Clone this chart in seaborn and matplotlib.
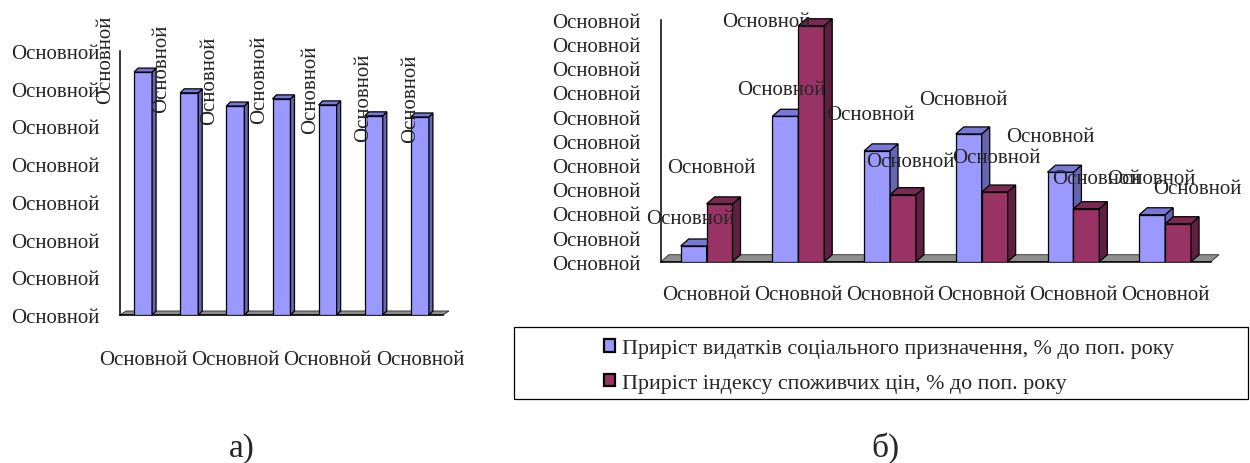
import numpy as np
import pandas as pd
import matplotlib
matplotlib.use("Agg")
import matplotlib.pyplot as plt
from matplotlib.patches import Polygon, Patch, Rectangle
from matplotlib.transforms import IdentityTransform
import seaborn as sns

# ---- data -------------------------------------------------------------
left_values = [64.4, 58.9, 55.4, 57.3, 55.7, 52.8, 52.5]
left_value_labels = ["Основной"] * 7
left_yticks = [0, 10, 20, 30, 40, 50, 60, 70]
left_ytick_labels = ["Основной"] * 8
left_xtick_labels = ["Основной", "", "Основной", "", "Основной", "", "Основной"]

right_social = [0.65, 6.01, 4.58, 5.28, 3.70, 1.94]
right_cpi = [2.39, 9.75, 2.77, 2.88, 2.19, 1.57]
right_social_labels = ["Основной"] * 6
right_cpi_labels = ["Основной"] * 6
right_yticks = [0, 1, 2, 3, 4, 5, 6, 7, 8, 9, 10]
right_ytick_labels = ["Основной"] * 11
right_xtick_labels = ["Основной"] * 6
series_names = ["Приріст видатків соціального призначення, % до поп. року",
                "Приріст індексу споживчих цін, % до поп. року"]

# ---- style ------------------------------------------------------------
sns.set_style("white")
plt.rcParams["font.family"] = ["Liberation Serif", "DejaVu Serif"]
FS = 15
LEG_FS = 15.8
BLUE = ("#9999FF", "#6666B0", "#7878D8")      # front, side, top
RED = ("#993366", "#5E1F40", "#7A2952")
FLOOR = "#8E8E8E"
EDGE_LW = 0.9

# label nudges (pixels) relative to the top centre of each bar
left_label_dx = [-37, -28, -26, -22, -17, -10, -9]
left_label_dy = [13, 25, 26, 20, 16, 19, 19]
social_label_dx = [-3, -4, -7, -5, -10, -1]
social_label_dy = [30, 29, 39, 37, 38, 39]
cpi_label_dx = [-8, -45, 7, 2, 10, 19]
cpi_label_dy = [39, 7, 36, 37, 33, 38]

fig = plt.figure(figsize=(12.5, 4.64), dpi=100)
ax_l = fig.add_axes([0.0960, 0.3190, 0.2584, 0.5690])
ax_r = fig.add_axes([0.5286, 0.4338, 0.4402, 0.5216])

# ---- left chart -------------------------------------------------------
df_l = pd.DataFrame({"period": [f"p{i}" for i in range(len(left_values))],
                     "value": left_values})
sns.barplot(data=df_l, x="period", y="value", ax=ax_l, color=BLUE[0],
            saturation=1, width=0.39, edgecolor="black", linewidth=EDGE_LW,
            zorder=3)

# ---- right chart ------------------------------------------------------
n_r = len(right_social)
df_r = pd.DataFrame({
    "period": [f"p{i}" for i in range(n_r)] * 2,
    "value": right_social + right_cpi,
    "series": [series_names[0]] * n_r + [series_names[1]] * n_r,
})
sns.barplot(data=df_r, x="period", y="value", hue="series", ax=ax_r,
            palette=[BLUE[0], RED[0]], saturation=1, width=0.565,
            edgecolor="black", linewidth=EDGE_LW, legend=False)


def style_axes(ax, n, yticks, ylabels, xlabel_pos, xlabels, xpad):
    ax.set_xlim(-0.5, n - 0.5)
    ax.set_ylim(yticks[0], yticks[-1])
    ax.set_yticks(yticks, labels=ylabels)
    ax.set_xticks(np.arange(-0.5, n), labels=[""] * (n + 1))
    ax.set_xticks(xlabel_pos, labels=xlabels, minor=True)
    ax.tick_params(axis="x", which="minor", length=0, pad=xpad, labelsize=FS)
    ax.tick_params(axis="x", which="major", direction="out", length=3.6,
                   width=1.0, color="black")
    ax.tick_params(axis="y", direction="out", length=3.6, width=1.0,
                   color="black", pad=10.8, labelsize=FS)
    ax.set_xlabel("")
    ax.set_ylabel("")
    for s in ("top", "right"):
        ax.spines[s].set_visible(False)
    for s in ("left", "bottom"):
        ax.spines[s].set_color("black")
        ax.spines[s].set_linewidth(1.1)
    ax.patch.set_alpha(0)


style_axes(ax_l, len(left_values), left_yticks, left_ytick_labels,
           np.arange(len(left_values)), left_xtick_labels, 25.5)
style_axes(ax_r, n_r, right_yticks, right_ytick_labels,
           np.arange(n_r), right_xtick_labels, 16.8)


def add_depth(ax, dx, dy, floor_dx, floor_dy):
    """Give the flat bars a side and a top face plus a grey floor.
    Returns the top centre of every bar, one list per series."""
    tr = ax.transData
    x0, x1 = ax.get_xlim()
    (fl, fy), (fr, _) = tr.transform([(x0, 0), (x1, 0)])
    floor = Polygon([(fl, fy), (fr, fy), (fr + floor_dx, fy + floor_dy),
                     (fl + floor_dx, fy + floor_dy)], closed=True,
                    facecolor=FLOOR, edgecolor="#2a2a2a", linewidth=0.6,
                    transform=IdentityTransform(), zorder=2, clip_on=False)
    ax.add_artist(floor)
    out = []
    for k, cont in enumerate(ax.containers):
        colors = BLUE if k == 0 else RED
        z = 3 + 2 * k
        tops = []
        for p in cont.patches:
            p.set_zorder(z)
            bx, bw, bh = p.get_x(), p.get_width(), p.get_height()
            (X0, Y0), (X1, Y1) = tr.transform([(bx, 0), (bx + bw, bh)])
            side = Polygon([(X1, Y0), (X1 + dx, Y0 + dy), (X1 + dx, Y1 + dy),
                            (X1, Y1)], closed=True, facecolor=colors[1],
                           edgecolor="black", linewidth=EDGE_LW,
                           transform=IdentityTransform(), zorder=z + 0.5,
                           clip_on=False)
            top = Polygon([(X0, Y1), (X0 + dx, Y1 + dy), (X1 + dx, Y1 + dy),
                           (X1, Y1)], closed=True, facecolor=colors[2],
                          edgecolor="black", linewidth=EDGE_LW,
                          transform=IdentityTransform(), zorder=z + 0.5,
                          clip_on=False)
            ax.add_artist(side)
            ax.add_artist(top)
            tops.append((bx + bw / 2, bh))
        out.append(tops)
    return out


left_tops = add_depth(ax_l, 4, 4, 6, 4)
social_tops, cpi_tops = add_depth(ax_r, 8, 7, 8, 7)

PX = 72 / 100  # pixels -> points
for (cx, h), txt, ddx, ddy in zip(left_tops[0], left_value_labels,
                                  left_label_dx, left_label_dy):
    ax_l.annotate(txt, xy=(cx, h), xytext=(ddx * PX, ddy * PX),
                  textcoords="offset points", rotation=90, ha="center",
                  va="center", fontsize=FS, zorder=10, annotation_clip=False)

for tops, labels, ldx, ldy in ((social_tops, right_social_labels,
                                social_label_dx, social_label_dy),
                               (cpi_tops, right_cpi_labels,
                                cpi_label_dx, cpi_label_dy)):
    for (cx, h), txt, ddx, ddy in zip(tops, labels, ldx, ldy):
        ax_r.annotate(txt, xy=(cx, h), xytext=(ddx * PX, ddy * PX),
                      textcoords="offset points", ha="center",
                      va="center_baseline", fontsize=FS, zorder=10,
                      annotation_clip=False)

# ---- legend -------------------------------------------------------------
fig.add_artist(Rectangle((0.4112, 0.1379), 0.5872, 0.1552,
                         transform=fig.transFigure, facecolor="white",
                         edgecolor="black", linewidth=0.9))
handles = [Patch(facecolor=BLUE[0], edgecolor="black", linewidth=1.6),
           Patch(facecolor=RED[0], edgecolor="black", linewidth=1.6)]
fig.legend(handles, series_names, loc="center", bbox_to_anchor=(0.7112, 0.209),
           frameon=False, fontsize=LEG_FS, handlelength=0.52, handleheight=0.52,
           handletextpad=0.3, labelspacing=0.7, alignment="left")

fig.text(0.1936, 0.015, "а)", fontsize=24, ha="center", va="baseline")
fig.text(0.7080, 0.015, "б)", fontsize=24, ha="center", va="baseline")

fig.savefig("out.png", dpi=100, facecolor="white")
